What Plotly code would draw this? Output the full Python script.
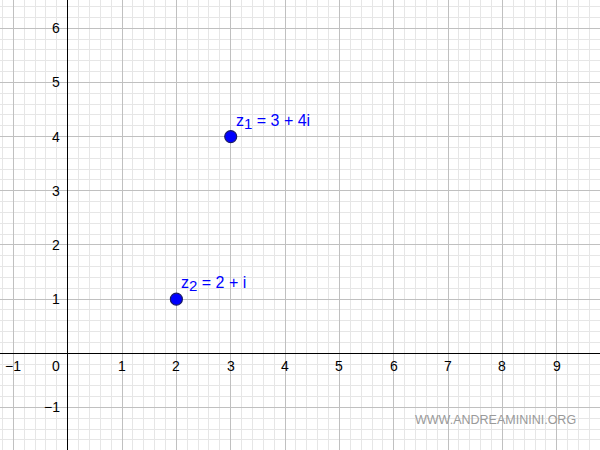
import plotly.graph_objects as go

# data
point_names = ["z1", "z2"]
re_vals = [3, 2]
im_vals = [4, 1]
point_labels = ["z<sub><span style='font-size:15px'>1</span></sub> = 3 + 4i",
                "z<sub><span style='font-size:15px'>2</span></sub> = 2 + i"]
x_ticks = [-1, 1, 2, 3, 4, 5, 6, 7, 8, 9]
y_ticks = [-1, 1, 2, 3, 4, 5, 6]

x_range = [-1.246, 9.796]
y_range = [-1.785, 6.522]

FONT = "Liberation Sans, Arial"

fig = go.Figure()
fig.add_trace(go.Scatter(
    x=re_vals, y=im_vals, mode="markers",
    marker=dict(size=12, color="#0000ff", line=dict(color="#1a1a66", width=1.2)),
    hoverinfo="skip", showlegend=False))

ann = []
for x, y, t in zip(re_vals, im_vals, point_labels):
    ann.append(dict(x=x, y=y, xref="x", yref="y", text=t, showarrow=False,
                    xanchor="left", yanchor="bottom", xshift=3, yshift=3,
                    font=dict(family=FONT, size=16, color="#0000ff")))
for v in x_ticks:
    ann.append(dict(x=v, y=0, xref="x", yref="y", text=("\u2212" + str(-v)) if v < 0 else str(v),
                    showarrow=False, xanchor="center", yanchor="top", yshift=-3,
                    font=dict(family=FONT, size=14, color="#000")))
ann.append(dict(x=0, y=0, xref="x", yref="y", text="0", showarrow=False,
                xanchor="right", yanchor="top", xshift=-6, yshift=-3,
                font=dict(family=FONT, size=14, color="#000")))
for v in y_ticks:
    ann.append(dict(x=0, y=v, xref="x", yref="y", text=("\u2212" + str(-v)) if v < 0 else str(v),
                    showarrow=False, xanchor="right", yanchor="middle", xshift=-6,
                    font=dict(family=FONT, size=14, color="#000")))
ann.append(dict(x=0.964, y=0.067, xref="paper", yref="paper", text="WWW.ANDREAMININI.ORG",
                showarrow=False, xanchor="right", yanchor="middle",
                font=dict(family=FONT, size=12.5, color="#9a9a9a")))

axis_common = dict(showgrid=True, gridcolor="#c0c0c0", gridwidth=1, dtick=1, tick0=0,
                   zeroline=True, zerolinecolor="#000", zerolinewidth=1.3,
                   showticklabels=False, ticks="", showline=False,
                   minor=dict(dtick=0.2, tick0=0, showgrid=True, gridcolor="#e6e6e6", gridwidth=1))

fig.update_layout(
    width=600, height=450, margin=dict(l=0, r=0, t=0, b=0),
    plot_bgcolor="white", paper_bgcolor="white",
    xaxis=dict(range=x_range, **axis_common),
    yaxis=dict(range=y_range, **axis_common),
    annotations=ann,
)
fig.write_html("out.html", config={"displayModeBar": False},
               post_script="document.body.style.margin='0';")
